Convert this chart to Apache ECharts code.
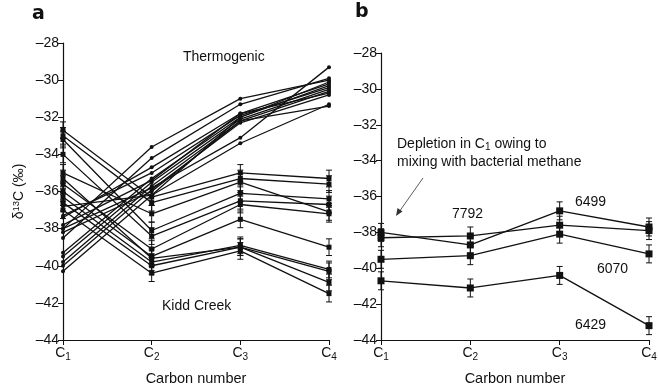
<!DOCTYPE html>
<html>
<head>
<meta charset="utf-8">
<script src="https://cdn.jsdelivr.net/npm/echarts@6/dist/echarts.min.js"></script>
<style>
  html, body { margin: 0; padding: 0; background: #fff; }
  #chart { width: 658px; height: 386px; }
</style>
</head>
<body>
<div id="chart"></div>
<script>
const carbon = ["C1", "C2", "C3", "C4"];
const yTicks = [-44, -42, -40, -38, -36, -34, -32, -30, -28];

// panel a, thermogenic gases (circles)
const thermogenicLines = [
  [-38.0, -33.6, -31.0, -30.0],
  [-38.5, -34.2, -31.3, -29.9],
  [-37.4, -34.7, -31.8, -30.2],
  [-37.3, -35.0, -31.9, -30.4],
  [-39.3, -35.3, -32.0, -30.1],
  [-39.5, -35.5, -32.1, -30.5],
  [-39.8, -35.7, -32.2, -30.6],
  [-40.0, -35.9, -32.3, -30.8],
  [-40.3, -36.2, -32.0, -30.3],
  [-38.0, -35.8, -33.1, -29.3],
  [-36.8, -36.2, -33.4, -31.3],
  [-38.2, -36.0, -32.2, -31.4],
  [-37.8, -35.4, -31.8, -30.7]
];

// panel a, Kidd Creek gases (squares with error bars)
const kiddCreekLines = [
  [-32.7, -36.3, -35.0, -35.3],
  [-33.0, -36.6, -35.3, -35.6],
  [-33.2, -38.1, -36.1, -36.4],
  [-34.0, -38.4, -36.5, -36.7],
  [-35.0, -37.2, -35.5, -37.1],
  [-35.6, -39.1, -36.7, -37.2],
  [-36.0, -39.5, -37.5, -39.0],
  [-36.3, -39.8, -38.9, -40.2],
  [-36.6, -40.0, -39.0, -40.3],
  [-37.0, -40.4, -39.2, -41.5],
  [-35.3, -39.6, -39.0, -40.9]
];
const kiddCreekError = 0.45;

// panel b, individual boreholes
const sample6499 = [-38.0, -38.7, -36.8, -37.7];
const sample7792 = [-38.3, -38.2, -37.6, -37.9];
const sample6070 = [-39.5, -39.3, -38.1, -39.2];
const sample6429 = [-40.7, -41.1, -40.4, -43.2];
const panelBError = 0.5;

const FONT = "Liberation Sans, Arial, sans-serif";
const INK = "#111";
const FS = 14;

function minus(v) { return String(v).replace("-", "\u2013"); }

function errorBars(values, err) {
  return values.map((v, i) => [i, v - err, v + err]);
}

function renderErrorBar(params, api) {
  const lo = api.coord([api.value(0), api.value(1)]);
  const hi = api.coord([api.value(0), api.value(2)]);
  const w = 3;
  const style = { stroke: INK, lineWidth: 1 };
  return {
    type: "group",
    children: [
      { type: "line", shape: { x1: lo[0], y1: lo[1], x2: hi[0], y2: hi[1] }, style },
      { type: "line", shape: { x1: lo[0] - w, y1: lo[1], x2: lo[0] + w, y2: lo[1] }, style },
      { type: "line", shape: { x1: hi[0] - w, y1: hi[1], x2: hi[0] + w, y2: hi[1] }, style }
    ]
  };
}

const subRich = {
  c: { fontFamily: FONT, fontSize: FS, color: INK },
  s: { fontFamily: FONT, fontSize: 10, color: INK, verticalAlign: "bottom", padding: [7, 0, 0, 0] }
};

function xAxisFor(gridIndex) {
  return {
    type: "category",
    gridIndex,
    data: carbon,
    boundaryGap: false,
    name: "Carbon number",
    nameLocation: "middle",
    nameGap: 31,
    nameTextStyle: { fontFamily: FONT, fontSize: 14.5, color: INK },
    axisLine: { lineStyle: { color: INK, width: 1.2 } },
    axisTick: { alignWithLabel: true, length: 5, lineStyle: { color: INK } },
    axisLabel: {
      margin: 5,
      formatter: (v) => "{c|C}{s|" + v.slice(1) + "}",
      rich: subRich
    },
    splitLine: { show: false }
  };
}

function yAxisFor(gridIndex, withName) {
  return {
    type: "value",
    gridIndex,
    min: -44,
    max: -28,
    interval: 2,
    name: withName ? "{d|\u03b4}{s|13}{d|C (\u2030)}" : "",
    nameLocation: "middle",
    nameRotate: 90,
    nameGap: 36,
    nameTextStyle: {
      rich: {
        d: { fontFamily: FONT, fontSize: FS, color: INK },
        s: { fontFamily: FONT, fontSize: 9.5, color: INK, verticalAlign: "top", padding: [0, 0, 6, 0] }
      }
    },
    axisLine: { show: true, lineStyle: { color: INK, width: 1.2 } },
    axisTick: { show: true, length: 5, lineStyle: { color: INK } },
    axisLabel: {
      margin: 4,
      fontFamily: FONT,
      fontSize: FS,
      color: INK,
      formatter: (v) => yTicks.includes(v) ? minus(v) : ""
    },
    splitLine: { show: false }
  };
}

function lineSeries(values, axisIndex, symbol, size) {
  return {
    type: "line",
    xAxisIndex: axisIndex,
    yAxisIndex: axisIndex,
    data: values,
    symbol,
    symbolSize: size,
    showSymbol: true,
    lineStyle: { color: INK, width: 1.3 },
    itemStyle: { color: INK },
    z: 3,
    silent: true
  };
}

function errorSeries(values, err, axisIndex) {
  return {
    type: "custom",
    xAxisIndex: axisIndex,
    yAxisIndex: axisIndex,
    data: errorBars(values, err),
    renderItem: renderErrorBar,
    encode: { x: 0, y: [1, 2] },
    z: 2,
    silent: true
  };
}

const series = [];
thermogenicLines.forEach((v) => series.push(lineSeries(v, 0, "circle", 4)));
kiddCreekLines.forEach((v) => {
  series.push(lineSeries(v, 0, "rect", 5));
  series.push(errorSeries(v, kiddCreekError, 0));
});
[sample6499, sample7792, sample6070, sample6429].forEach((v) => {
  series.push(lineSeries(v, 1, "rect", 7));
  series.push(errorSeries(v, panelBError, 1));
});

function label(text, x, y, extra) {
  return {
    type: "text",
    left: x,
    top: y,
    style: Object.assign({ text, fontFamily: FONT, fontSize: FS, fill: INK, rich: {
      c: { fontFamily: FONT, fontSize: FS, fill: INK },
      s: { fontFamily: FONT, fontSize: 10, fill: INK, verticalAlign: "bottom", padding: [7, 0, 0, 0] }
    } }, extra || {})
  };
}

const chart = echarts.init(document.getElementById("chart"), null, { renderer: "canvas" });
chart.setOption({
  animation: false,
  backgroundColor: "#fff",
  grid: [
    { left: 63, top: 43, width: 266, height: 297, outerBoundsMode: "none", containLabel: false },
    { left: 381, top: 53, width: 268, height: 287, outerBoundsMode: "none", containLabel: false }
  ],
  xAxis: [xAxisFor(0), xAxisFor(1)],
  yAxis: [yAxisFor(0, true), yAxisFor(1, false)],
  series,
  graphic: [
    label("a", 32, 5, { fontSize: 19, fontWeight: "bold", fontFamily: "DejaVu Sans, sans-serif" }),
    label("b", 355, 3, { fontSize: 19, fontWeight: "bold", fontFamily: "DejaVu Sans, sans-serif" }),
    label("Thermogenic", 183, 50),
    label("Kidd Creek", 162, 299),
    label("{c|Depletion in C}{s|1}{c| owing to}", 397, 137),
    label("mixing with bacterial methane", 397, 155),
    label("7792", 452, 207),
    label("6499", 575, 195),
    label("6070", 597, 262),
    label("6429", 575, 318),
    {
      type: "line",
      shape: { x1: 423, y1: 178, x2: 399, y2: 212 },
      style: { stroke: "#333", lineWidth: 0.8 }
    },
    {
      type: "polygon",
      shape: { points: [[396, 216], [397.5, 208], [402.5, 211.5]] },
      style: { fill: "#333" }
    }
  ]
});
</script>
</body>
</html>
